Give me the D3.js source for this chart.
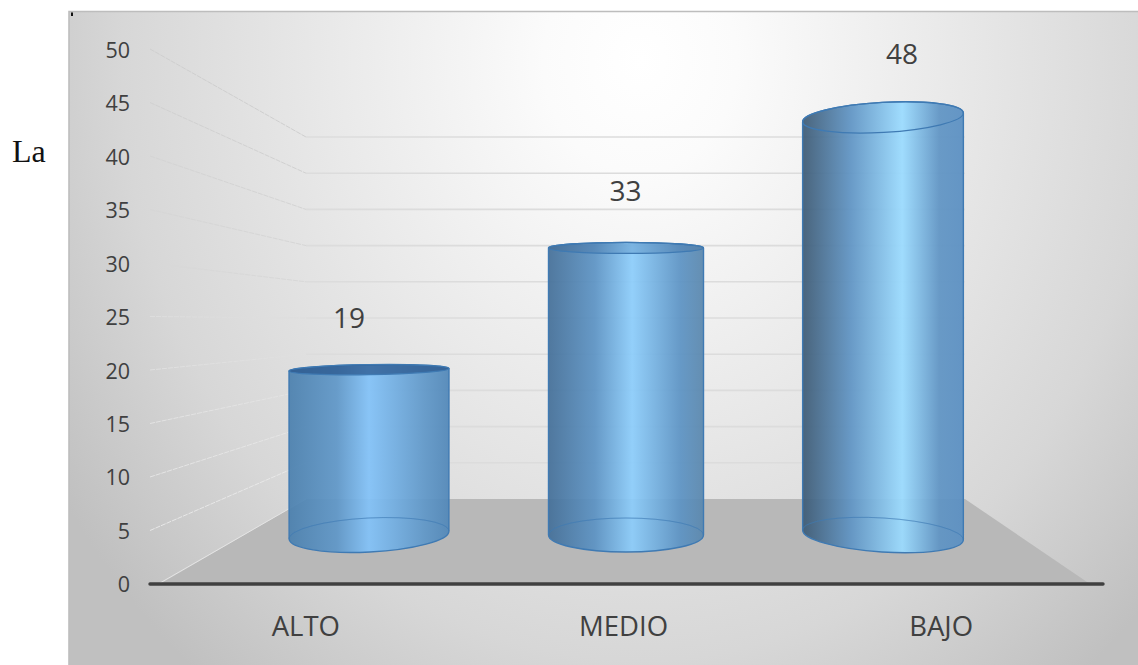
<!DOCTYPE html>
<html><head><meta charset="utf-8">
<script src="https://cdn.jsdelivr.net/npm/d3@7/dist/d3.min.js"></script>
<style>html,body{margin:0;padding:0;background:#fff}svg{display:block}
text{font-family:"Open Sans",sans-serif;fill:#404040}</style></head>
<body><svg id="c" width="1138" height="665"></svg>
<script>
const categories = ["ALTO","MEDIO","BAJO"];
const values = [19,33,48];
const yTicks = [0,5,10,15,20,25,30,35,40,45,50];

const svg = d3.select("#c");
const defs = svg.append("defs");

// chart background
const bg = defs.append("radialGradient").attr("id","bg").attr("gradientUnits","userSpaceOnUse")
  .attr("cx",0).attr("cy",0).attr("r",1)
  .attr("gradientTransform","translate(640,60) scale(690,800)");
[[0,"#ffffff"],[.14,"#fbfbfb"],[.45,"#e9e9e9"],[.75,"#d7d7d7"],[1,"#c0c0c0"]]
  .forEach(([o,c])=>bg.append("stop").attr("offset",o).attr("stop-color",c));
svg.append("rect").attr("x",69).attr("y",11).attr("width",1069).attr("height",654).attr("fill","url(#bg)");
svg.append("path").attr("d","M69 665V11.5H1138").attr("fill","none").attr("stroke","#bdbdbd").attr("stroke-width",1.6);
svg.append("rect").attr("x",71).attr("y",12.5).attr("width",2).attr("height",3.5).attr("fill","#111");
svg.append("text").attr("x",12).attr("y",162).style("font-family","'Liberation Serif',serif").style("fill","#111").style("font-size","32px").text("La");

// scales: front plane, back wall, cylinder plane, label plane
const yFront = d3.scaleLinear().domain([0,50]).range([584,49]);
const yTick = d3.scaleLinear().domain([0,50]).range([585,50.5]);
const yBack = d3.scaleLinear().domain([0,50]).range([499,137]);
const yCyl = d3.scaleLinear().domain([0,50]).range([535,100]);
const yLabel = d3.scaleLinear().domain([0,50]).range([491,36]);
const xFront = d3.scaleBand().domain(categories).range([147,1100]);
const xCyl = d3.scalePoint().domain(categories).range([369,883]);
const xLabel = d3.scalePoint().domain(categories).range([349,902]);

// floor
const X = {l0:160,l1:306,r1:965,r0:1090};
svg.append("path").attr("d",`M${X.l0} ${yFront(0)}L${X.l1} ${yBack(0)}H${X.r1}L${X.r0} ${yFront(0)}Z`).attr("fill","#b8b8b8");
svg.append("path").attr("d",`M${X.l0} ${yFront(0)-1}L${X.l1} ${yBack(0)}`).attr("fill","none").attr("stroke","#e4e4e4").attr("stroke-width",1);

// gridlines
const wallShade = d3.scaleLinear().domain([0,25,30,50]).range(["#eaeaea","#dedede","#d8d8d8","#cfcfcf"]);
svg.append("g").selectAll("path").data(yTicks.filter(d=>d>0)).join("path")
  .attr("d",d=>`M150 ${yFront(d)}L${X.l1} ${yBack(d)}`).attr("fill","none")
  .attr("stroke",wallShade).attr("stroke-width",1).attr("stroke-dasharray","5 1");
svg.append("g").selectAll("path").data(yTicks.filter(d=>d>0)).join("path")
  .attr("d",d=>`M${X.l1} ${yBack(d)}H${X.r1}`).attr("fill","none")
  .attr("stroke","#dcdcdc").attr("stroke-width",1.6);

// cylinder appearance
const leftEdge = ["#4b80ae","#446f98","#3d5a74"];
const shoulder = ["#5f97c8","#5c93c4","#5f94c4"];
const middle = ["#82c2f8","#8ccdfb","#9adbff"];
const rightEdge = ["#5187b8","#5a87ad","#5a8fc2"];
const midAt = [.5,.54,.62];
const topTilt = [-.9,0,-3.2], baseTilt = [-2.9,0,3.6];
const topRy = [5,5.5,15], baseRy = [17,17,17];
const halfWidth = [80,77.5,80.5];
const topFill = ["rgba(40,85,140,.75)","rgba(40,85,140,.22)","rgba(255,255,255,0)"];

categories.forEach((c,i)=>{
  const g = defs.append("linearGradient").attr("id","cy"+i);
  [[0,leftEdge[i]],[.3,shoulder[i]],[midAt[i],middle[i]],[.85,shoulder[i]],[1,rightEdge[i]]]
   .forEach(([o,col])=>g.append("stop").attr("offset",o).attr("stop-color",col));
});
const rows = categories.map((c,i)=>({c,i,v:values[i]}));
const ends = (cx,cy,rx,t)=>{const a=t*Math.PI/180;return {lx:cx-rx*Math.cos(a),ly:cy-rx*Math.sin(a),rx_:cx+rx*Math.cos(a),ry_:cy+rx*Math.sin(a)};};
const cyl = svg.append("g").selectAll("g").data(rows).join("g");
cyl.append("path").attr("d",d=>{
  const cx=xCyl(d.c), rx=halfWidth[d.i];
  const T=ends(cx,yCyl(d.v),rx,topTilt[d.i]), B=ends(cx,yCyl(0),rx,baseTilt[d.i]);
  return `M${T.lx} ${T.ly}L${B.lx} ${B.ly}A${rx} ${baseRy[d.i]} ${baseTilt[d.i]} 0 0 ${B.rx_} ${B.ry_}L${T.rx_} ${T.ry_}A${rx} ${topRy[d.i]} ${topTilt[d.i]} 0 0 ${T.lx} ${T.ly}Z`;
}).attr("fill",d=>`url(#cy${d.i})`).attr("fill-opacity",.93).attr("stroke","#3f7ab3").attr("stroke-width",1.4);
// base rim
cyl.append("path").attr("d",d=>{
  const cx=xCyl(d.c), rx=halfWidth[d.i], B=ends(cx,yCyl(0),rx,baseTilt[d.i]);
  return `M${B.lx} ${B.ly}A${rx} ${baseRy[d.i]} ${baseTilt[d.i]} 0 1 ${B.rx_} ${B.ry_}A${rx} ${baseRy[d.i]} ${baseTilt[d.i]} 0 0 ${B.lx} ${B.ly}Z`;
}).attr("fill","rgba(30,100,180,.10)").attr("stroke","#3f7ab3").attr("stroke-opacity",.4).attr("stroke-width",1);
// top rim
cyl.append("ellipse").attr("rx",d=>halfWidth[d.i]).attr("ry",d=>topRy[d.i])
  .attr("transform",d=>`translate(${xCyl(d.c)},${yCyl(d.v)}) rotate(${topTilt[d.i]})`)
  .attr("fill",d=>topFill[d.i]).attr("stroke","#3f7ab3").attr("stroke-width",1.3);

// value labels
svg.append("g").selectAll("text").data(rows).join("text")
  .attr("x",d=>xLabel(d.c)).attr("y",d=>yLabel(d.v)).attr("dy",".35em")
  .attr("text-anchor","middle").style("font-size","28px").text(d=>d.v);

// axes
const ax = svg.append("g").attr("transform","translate(130,0)")
  .call(d3.axisLeft(yTick).tickValues(yTicks).tickSize(0).tickPadding(0));
ax.select(".domain").remove();
ax.selectAll("text").style("font-size","21.5px").style("font-family","'Open Sans',sans-serif").attr("fill","#404040");
const bx = svg.append("g").attr("transform",`translate(0,${yFront(0)})`)
  .call(d3.axisBottom(xFront).tickSize(0).tickPadding(32));
bx.select(".domain").remove();
bx.selectAll("text").style("font-size","27.5px").style("font-family","'Open Sans',sans-serif").attr("fill","#404040");
svg.append("line").attr("x1",150).attr("x2",1103).attr("y1",yFront(0)).attr("y2",yFront(0))
  .attr("stroke","#404040").attr("stroke-width",3.4).attr("stroke-linecap","round");
</script></body></html>
